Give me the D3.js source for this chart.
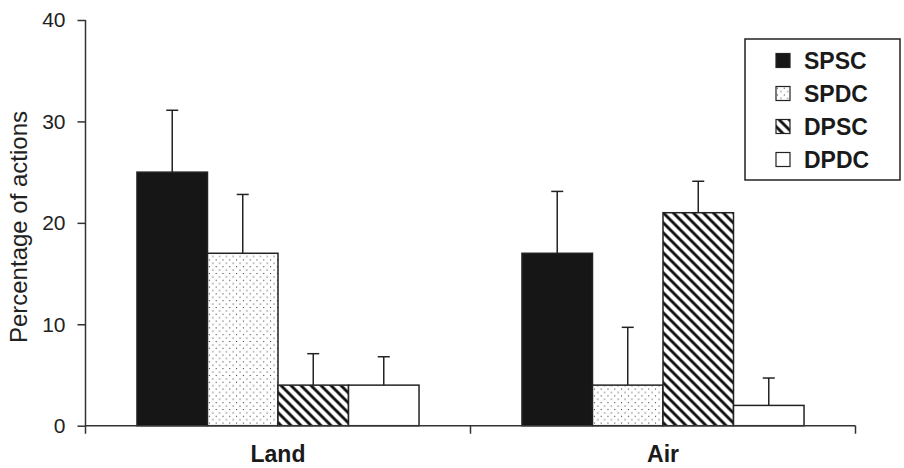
<!DOCTYPE html>
<html lang="en">
<head>
<meta charset="UTF-8">
<title>Percentage of actions</title>
<script src="https://d3js.org/d3.v7.min.js"></script>
<style>
    body { margin: 0; background: #fff; }
    svg { display: block; font-family: "Liberation Sans", Arial, Helvetica, sans-serif; }
</style>
</head>
<body>
<div id="chart"></div>
<script>
    // values
    const categories = ["Land", "Air"];
    const series = ["SPSC", "SPDC", "DPSC", "DPDC"];
    const means = {
        Land: [25, 17, 4, 4],
        Air: [17, 4, 21, 2]
    };
    const errTops = {
        Land: [31.1, 22.8, 7.1, 6.8],
        Air: [23.1, 9.7, 24.1, 4.7]
    };
    const yTicks = [0, 10, 20, 30, 40];

    const width = 904, height = 468;
    const plotLeft = 85.5, plotRight = 855.5, plotTop = 20, plotBottom = 425.7;
    const ink = "#222";

    const svg = d3.select("#chart").append("svg")
        .attr("width", width)
        .attr("height", height);

    // fills for the four series
    const defs = svg.append("defs");
    const dotStep = 6.8;
    const dots = defs.append("pattern")
        .attr("id", "dots")
        .attr("patternUnits", "userSpaceOnUse")
        .attr("width", dotStep).attr("height", dotStep);
    dots.append("rect").attr("width", dotStep).attr("height", dotStep).attr("fill", "#fff");
    dots.append("rect").attr("x", 1).attr("y", 1).attr("width", 1).attr("height", 1).attr("fill", "#222");
    dots.append("rect").attr("x", 1 + dotStep / 2).attr("y", 1 + dotStep / 2).attr("width", 1).attr("height", 1).attr("fill", "#222");

    const stripe = 10;
    const hatch = defs.append("pattern")
        .attr("id", "hatch")
        .attr("patternUnits", "userSpaceOnUse")
        .attr("width", stripe).attr("height", stripe);
    hatch.append("rect").attr("width", stripe).attr("height", stripe).attr("fill", "#fff");
    hatch.append("path")
        .attr("d", `M-2,-2L${stripe + 2},${stripe + 2}M${-stripe / 2 - 2},${stripe / 2 - 2}L${stripe / 2 + 2},${stripe * 1.5 + 2}M${stripe / 2 - 2},${-stripe / 2 - 2}L${stripe * 1.5 + 2},${stripe / 2 + 2}`)
        .attr("stroke", "#111")
        .attr("stroke-width", 2.9);

    const fills = ["#161616", "url(#dots)", "url(#hatch)", "#fff"];
    const color = d3.scaleOrdinal().domain(series).range(fills);

    const y = d3.scaleLinear().domain([0, 40]).range([plotBottom, plotTop]);
    const x0 = d3.scaleBand().domain(categories).range([plotLeft, plotRight]);
    const x1 = d3.scaleBand().domain(series).range([0, x0.bandwidth()]).paddingOuter(0.73);

    // bars
    const groups = svg.append("g").selectAll("g")
        .data(categories)
        .join("g")
        .attr("transform", d => `translate(${x0(d)},0)`);

    const cells = groups.selectAll("g")
        .data(c => series.map((s, i) => ({ cat: c, s: s, v: means[c][i], e: errTops[c][i] })))
        .join("g");

    // error bars (upper half only)
    const capW = 12;
    cells.append("line")
        .attr("x1", d => x1(d.s) + x1.bandwidth() / 2)
        .attr("x2", d => x1(d.s) + x1.bandwidth() / 2)
        .attr("y1", d => y(d.v))
        .attr("y2", d => y(d.e))
        .attr("stroke", ink).attr("stroke-width", 1.5);
    cells.append("line")
        .attr("x1", d => x1(d.s) + x1.bandwidth() / 2 - capW / 2)
        .attr("x2", d => x1(d.s) + x1.bandwidth() / 2 + capW / 2)
        .attr("y1", d => y(d.e))
        .attr("y2", d => y(d.e))
        .attr("stroke", ink).attr("stroke-width", 1.5);

    cells.append("rect")
        .attr("x", d => x1(d.s))
        .attr("y", d => y(d.v))
        .attr("width", x1.bandwidth())
        .attr("height", d => y(0) - y(d.v))
        .attr("fill", d => color(d.s))
        .attr("stroke", ink)
        .attr("stroke-width", 1.5);

    // y axis
    const yAxis = svg.append("g")
        .attr("transform", `translate(${plotLeft},0)`)
        .call(d3.axisLeft(y).tickValues(yTicks).tickSize(8).tickPadding(12));
    yAxis.select(".domain").attr("d", `M0,${plotTop}V${plotBottom + 8}`);
    yAxis.selectAll("line, .domain").attr("stroke", "#333").attr("stroke-width", 1.5);
    yAxis.selectAll("text").attr("font-size", 21).attr("fill", "#222");

    // x axis with ticks at category boundaries
    const xAxis = svg.append("g");
    xAxis.append("line")
        .attr("x1", plotLeft).attr("x2", plotRight)
        .attr("y1", plotBottom).attr("y2", plotBottom)
        .attr("stroke", "#333").attr("stroke-width", 1.5);
    xAxis.selectAll(".bound")
        .data(categories.slice(1).map(c => x0(c)).concat([plotRight]))
        .join("line")
        .attr("x1", d => d).attr("x2", d => d)
        .attr("y1", plotBottom).attr("y2", plotBottom + 8)
        .attr("stroke", "#333").attr("stroke-width", 1.5);
    xAxis.selectAll("text")
        .data(categories)
        .join("text")
        .attr("x", d => x0(d) + x0.bandwidth() / 2)
        .attr("y", 462)
        .attr("text-anchor", "middle")
        .attr("font-size", 23)
        .attr("font-weight", "bold")
        .attr("fill", "#1a1a1a")
        .text(d => d);

    svg.append("text")
        .attr("transform", "translate(27,227) rotate(-90)")
        .attr("text-anchor", "middle")
        .attr("font-size", 24)
        .attr("fill", "#222")
        .text("Percentage of actions");

    // legend
    const legend = svg.append("g");
    legend.append("rect")
        .attr("x", 745).attr("y", 39)
        .attr("width", 155).attr("height", 141)
        .attr("fill", "#fff")
        .attr("stroke", ink).attr("stroke-width", 1.5);
    const items = legend.selectAll(".item")
        .data(series)
        .join("g")
        .attr("transform", (d, i) => `translate(776,${60.5 + i * 33})`);
    items.append("rect")
        .attr("x", 0).attr("y", -7)
        .attr("width", 14).attr("height", 14)
        .attr("fill", d => color(d))
        .attr("stroke", ink).attr("stroke-width", 1.2);
    items.append("text")
        .attr("x", 28).attr("y", 8.5)
        .attr("font-size", 23)
        .attr("font-weight", "bold")
        .attr("fill", "#1a1a1a")
        .text(d => d);
</script>
</body>
</html>
